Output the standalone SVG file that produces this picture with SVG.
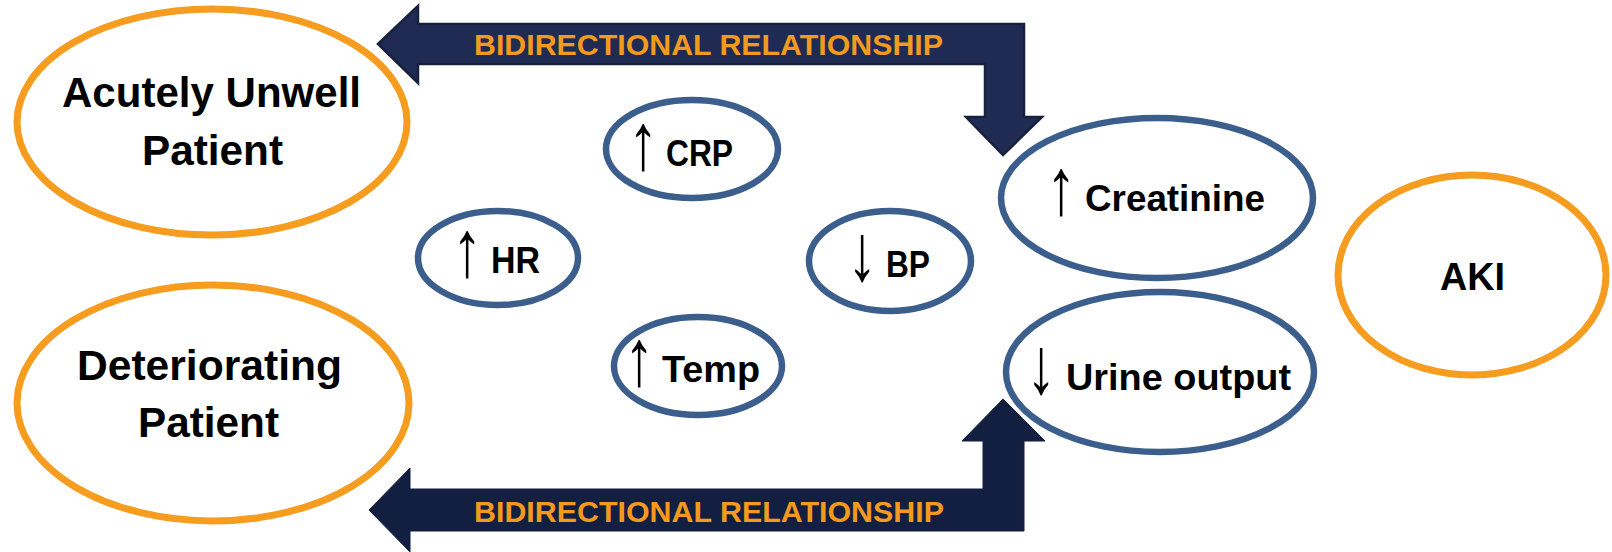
<svg xmlns="http://www.w3.org/2000/svg" width="1612" height="552" viewBox="0 0 1612 552">
<style>
.bg{fill:#ffffff}
.org{fill:#ffffff;stroke:#F69C1F;stroke-width:7}
.blu{fill:#ffffff;stroke:#3B5E8C;stroke-width:6.5}
.lbl{font-family:"Liberation Sans",Arial,sans-serif;font-weight:bold;fill:#000000}
.ar{font-family:"Liberation Sans",Arial,sans-serif;font-weight:normal;fill:#000000;text-anchor:middle;font-size:40px}
.bd{font-family:"Liberation Sans",Arial,sans-serif;font-weight:bold;fill:#F39A1E;font-size:29px}
.arrTop{fill:#1F2B52;stroke:#17213F;stroke-width:2.5;stroke-linejoin:miter}
.arrBot{fill:#131F40;stroke:#131F40;stroke-width:1}
</style>
<rect class="bg" x="0" y="0" width="1612" height="552"/>
<g id="connectors">
<polygon class="arrTop" points="378,44 418,6 418,24 1024,24 1024,117 1042,117 1003,155 966,117 985,117 985,64 418,64 418,83"/>
<text class="bd" x="474" y="55" textLength="469" lengthAdjust="spacingAndGlyphs">BIDIRECTIONAL RELATIONSHIP</text>
<polygon class="arrBot" points="369,510 410,468 410,489 983,489 983,441 962,441 1003,399 1045,441 1024,441 1024,531 410,531 410,552"/>
<text class="bd" x="474" y="522" textLength="470" lengthAdjust="spacingAndGlyphs">BIDIRECTIONAL RELATIONSHIP</text>
</g>
<g id="acutely">
<ellipse class="org" cx="212" cy="122" rx="195" ry="113"/>
<text class="lbl" font-size="42" x="62" y="107" textLength="299" lengthAdjust="spacingAndGlyphs">Acutely Unwell</text>
<text class="lbl" font-size="42" x="142" y="165" textLength="141" lengthAdjust="spacingAndGlyphs">Patient</text>
</g>
<g id="deteriorating">
<ellipse class="org" cx="213" cy="403" rx="196" ry="118"/>
<text class="lbl" font-size="42" x="77" y="380" textLength="265" lengthAdjust="spacingAndGlyphs">Deteriorating</text>
<text class="lbl" font-size="42" x="138" y="437" textLength="141" lengthAdjust="spacingAndGlyphs">Patient</text>
</g>
<g id="crp">
<ellipse class="blu" cx="692" cy="149" rx="86" ry="49"/>
<text class="ar" transform="translate(643,169) scale(1.5,2)">↑</text>
<text class="lbl" font-size="36" x="666" y="166" textLength="67" lengthAdjust="spacingAndGlyphs">CRP</text>
</g>
<g id="hr">
<ellipse class="blu" cx="498" cy="258" rx="80" ry="47"/>
<text class="ar" transform="translate(467,276) scale(1.5,2)">↑</text>
<text class="lbl" font-size="36" x="491" y="273" textLength="49" lengthAdjust="spacingAndGlyphs">HR</text>
</g>
<g id="bp">
<ellipse class="blu" cx="890" cy="261" rx="81" ry="50"/>
<text class="ar" transform="translate(862,280) scale(1.5,2)">↓</text>
<text class="lbl" font-size="36" x="886" y="277" textLength="44" lengthAdjust="spacingAndGlyphs">BP</text>
</g>
<g id="temp">
<ellipse class="blu" cx="698" cy="366" rx="84" ry="49"/>
<text class="ar" transform="translate(639,385) scale(1.5,2)">↑</text>
<text class="lbl" font-size="36" x="662" y="382" textLength="98" lengthAdjust="spacingAndGlyphs">Temp</text>
</g>
<g id="creatinine">
<ellipse class="blu" cx="1157" cy="198" rx="156" ry="80"/>
<text class="ar" transform="translate(1061,214) scale(1.5,2)">↑</text>
<text class="lbl" font-size="36" x="1085" y="211" textLength="180" lengthAdjust="spacingAndGlyphs">Creatinine</text>
</g>
<g id="urine">
<ellipse class="blu" cx="1160" cy="372" rx="154" ry="80"/>
<text class="ar" transform="translate(1041,393) scale(1.5,2)">↓</text>
<text class="lbl" font-size="36" x="1066" y="390" textLength="225" lengthAdjust="spacingAndGlyphs">Urine output</text>
</g>
<g id="aki">
<ellipse class="org" cx="1472" cy="275" rx="134" ry="100"/>
<text class="lbl" font-size="39" x="1440" y="290" textLength="65" lengthAdjust="spacingAndGlyphs">AKI</text>
</g>
</svg>
